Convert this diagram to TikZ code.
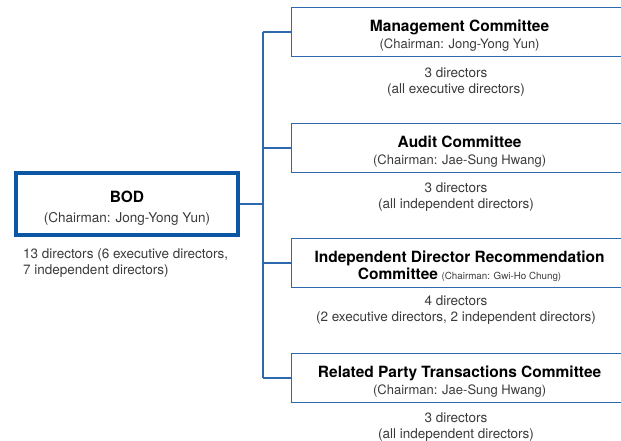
\documentclass[tikz,border=0pt]{standalone}
\usepackage{fontspec}
\setmainfont{TeX Gyre Heros}
\usepackage{tikz}

\definecolor{bodblue}{HTML}{0B57A4}
\definecolor{linkblue}{HTML}{2E68AE}
\definecolor{textgray}{HTML}{3A3A3A}

\begin{document}
\begin{tikzpicture}[x=1pt,y=-1pt,
  bodbox/.style={rectangle,draw=bodblue,line width=4pt,minimum width=222pt,
    minimum height=62pt,align=center,text=textgray,text height=37pt,text depth=0pt,
    font=\fontsize{13.5}{21}\selectfont},
  combox/.style={rectangle,draw=linkblue,line width=1.2pt,anchor=west,
    minimum width=336pt,minimum height=49pt,align=center,text=textgray,
    text height=32pt,text depth=0pt,font=\fontsize{13}{19}\selectfont},
  info/.style={align=center,text=textgray,inner sep=0pt,
    font=\fontsize{13.5}{16}\selectfont},
  link/.style={draw=linkblue,line width=1.2pt}]
\useasboundingbox (0,0) rectangle (621,440);
\newcommand{\hd}[1]{{\fontsize{15.5}{19}\selectfont\bfseries\color{black}#1}}
\node (bod)     at (127,204) [bodbox] {\hd{BOD}\\[-1pt](Chairman: Jong-Yong Yun)};
\node (bodinfo) at (23,263) [info,anchor=west,align=left] {13 directors (6 executive directors,\\7 independent directors)};
\node (mgmt)    at (291,32)  [combox] {\hd{Management Committee}\\[-2pt](Chairman: Jong-Yong Yun)};
\node (audit)   at (291,148) [combox] {\hd{Audit Committee}\\[-2pt](Chairman: Jae-Sung Hwang)};
\node (indep)   at (291,263) [combox] {\hd{Independent Director Recommendation}\\[-2pt]\hd{Committee} {\fontsize{9.8}{19}\selectfont(Chairman: Gwi-Ho Chung)}};
\node (party)   at (291,378) [combox] {\hd{Related Party Transactions Committee}\\[-2pt](Chairman: Jae-Sung Hwang)};
\node (mgmtinfo)  at (456,82)  [info] {3 directors\\(all executive directors)};
\node (auditinfo) at (456,197) [info] {3 directors\\(all independent directors)};
\node (indepinfo) at (456,310) [info] {4 directors\\(2 executive directors, 2 independent directors)};
\node (partyinfo) at (456,427) [info] {3 directors\\(all independent directors)};
\coordinate (trunktop) at (263,32);
\coordinate (trunkbot) at (263,378);
\draw [link] (trunktop) -- (trunkbot);
\draw [link] (bod.east)   -- (bod.east -| trunktop);
\draw [link] (mgmt.west)  -- (trunktop);
\draw [link] (audit.west) -- (audit.west -| trunktop);
\draw [link] (indep.west) -- (indep.west -| trunktop);
\draw [link] (party.west) -- (trunkbot);
\end{tikzpicture}
\end{document}
